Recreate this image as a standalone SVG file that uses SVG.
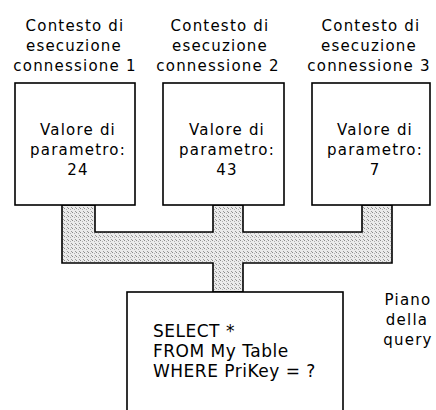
<svg xmlns="http://www.w3.org/2000/svg" width="436" height="410" viewBox="0 0 436 410">
<defs>
<pattern id="dots" width="4" height="4" patternUnits="userSpaceOnUse">
<rect width="4" height="4" fill="#ebebeb"/>
<rect x="0" y="0" width="1" height="1" fill="#8a8a8a"/>
<rect x="2" y="1" width="1" height="1" fill="#b0b0b0"/>
<rect x="3" y="3" width="1" height="1" fill="#999"/>
</pattern>
</defs>
<style>
.t{font-family:"DejaVu Sans",Verdana,sans-serif;font-size:15px;fill:#000;letter-spacing:1.2px;text-anchor:middle}
.q{font-family:"DejaVu Sans",Verdana,sans-serif;font-size:17px;fill:#000;letter-spacing:0.5px}
.box{fill:#fff;stroke:#000;stroke-width:1.6}
</style>
<rect width="436" height="410" fill="#fff"/>
<g id="connectors">
<path d="M62,205 V263 H213 V292 H243 V263 H392 V205 H362 V232 H243 V205 H213 V232 H95 V205 Z" fill="url(#dots)" stroke="#000" stroke-width="1.6"/>
</g>
<g id="conn1">
<text class="t" x="75" y="31">Contesto di</text>
<text class="t" x="74" y="51">esecuzione</text>
<text class="t" x="75" y="71">connessione 1</text>
<rect class="box" x="15" y="83" width="120" height="122"/>
<text class="t" x="78" y="135">Valore di</text>
<text class="t" x="78" y="155">parametro:</text>
<text class="t" x="78" y="175">24</text>
</g>
<g id="conn2">
<text class="t" x="220" y="31">Contesto di</text>
<text class="t" x="220" y="51">esecuzione</text>
<text class="t" x="218" y="71">connessione 2</text>
<rect class="box" x="163" y="83" width="121" height="122"/>
<text class="t" x="227" y="135">Valore di</text>
<text class="t" x="227" y="155">parametro:</text>
<text class="t" x="227" y="175">43</text>
</g>
<g id="conn3">
<text class="t" x="371" y="31">Contesto di</text>
<text class="t" x="369" y="51">esecuzione</text>
<text class="t" x="369" y="71">connessione 3</text>
<rect class="box" x="312" y="83" width="118" height="122"/>
<text class="t" x="375" y="135">Valore di</text>
<text class="t" x="375" y="155">parametro:</text>
<text class="t" x="375" y="175">7</text>
</g>
<g id="queryplan">
<rect class="box" x="127" y="292" width="216" height="130"/>
<text class="q" x="153" y="337">SELECT *</text>
<text class="q" x="153" y="357">FROM My Table</text>
<text class="q" x="153" y="377">WHERE PriKey = ?</text>
<text class="t" x="408" y="305">Piano</text>
<text class="t" x="407" y="325">della</text>
<text class="t" x="408" y="345">query</text>
</g>
</svg>
